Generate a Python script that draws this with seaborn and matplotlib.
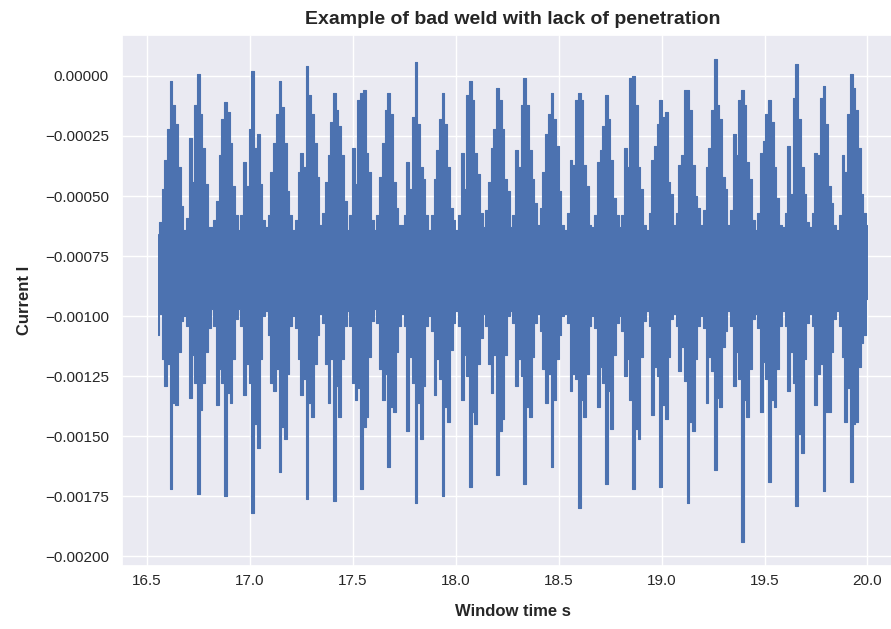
import numpy as np
import matplotlib
matplotlib.use("Agg")
import matplotlib.pyplot as plt
import seaborn as sns

# Upper and lower excursions of the sampled welding current (units of 1e-5 A),
# ten samples per arc pulse; each row below is one pulse.
upper_1e5 = [
    -66, -61, -47, -35, -22, -2, -12, -20, -38, -54,
    -64, -59, -26, -44, -12, 1, -16, -30, -45, -63,
    -63, -60, -52, -33, -18, -11, -15, -28, -46, -58,
    -64, -58, -36, -46, -22, 2, -30, -24, -45, -60,
    -63, -58, -40, -28, -16, -2, -13, -28, -48, -58,
    -64, -60, -40, -32, -38, 4, -8, -16, -28, -42,
    -62, -57, -44, -33, -19, -7, -14, -21, -33, -52,
    -64, -58, -30, -45, -10, -7, -6, -32, -40, -60,
    -64, -58, -42, -28, -14, -7, -16, -44, -55, -62,
    -62, -58, -36, -47, -17, 6, -20, -38, -43, -58,
    -64, -58, -43, -31, -18, -7, -20, -38, -55, -60,
    -64, -58, -32, -47, -8, -2, -10, -32, -41, -57,
    -63, -56, -44, -30, -22, -5, -10, -22, -43, -48,
    -63, -58, -31, -38, -12, -1, -12, -31, -43, -53,
    -62, -55, -40, -24, -16, -7, -18, -29, -48, -62,
    -64, -57, -35, -37, -10, -7, -10, -37, -46, -62,
    -63, -58, -36, -31, -21, -8, -18, -35, -51, -58,
    -63, -58, -30, -38, -1, 0, -12, -38, -47, -62,
    -64, -57, -35, -29, -20, -10, -17, -15, -44, -49,
    -62, -57, -37, -33, -6, -6, -14, -37, -50, -55,
    -62, -56, -38, -30, -14, 7, -12, -18, -42, -47,
    -62, -56, -24, -33, -10, -6, -12, -36, -43, -60,
    -64, -57, -32, -27, -16, -10, -19, -38, -51, -62,
    -63, -57, -29, -49, -9, 5, -18, -38, -49, -61,
    -63, -57, -32, -33, -9, -4, -20, -46, -53, -62,
    -64, -58, -33, -40, -16, 1, -5, -14, -30, -49,
    -57, -62,
]
lower_1e5 = [
    -108, -99, -118, -129, -120, -172, -136, -137, -115, -102,
    -100, -104, -134, -116, -128, -174, -139, -128, -115, -105,
    -97, -104, -137, -122, -128, -175, -132, -136, -118, -101,
    -97, -104, -133, -120, -128, -182, -145, -155, -118, -100,
    -98, -108, -128, -131, -122, -165, -146, -151, -124, -104,
    -100, -105, -118, -133, -126, -176, -136, -142, -120, -108,
    -99, -103, -120, -136, -118, -177, -129, -142, -118, -104,
    -98, -104, -128, -135, -130, -172, -146, -142, -117, -102,
    -97, -103, -122, -135, -124, -163, -138, -140, -115, -104,
    -99, -104, -148, -117, -128, -178, -136, -151, -129, -104,
    -100, -106, -133, -118, -126, -175, -138, -144, -114, -103,
    -98, -104, -135, -116, -125, -171, -140, -145, -120, -109,
    -99, -104, -120, -132, -116, -166, -148, -143, -116, -100,
    -98, -103, -129, -118, -125, -170, -138, -142, -117, -103,
    -99, -106, -122, -136, -124, -163, -135, -118, -108, -100,
    -99, -103, -131, -124, -126, -180, -135, -142, -124, -104,
    -100, -105, -138, -121, -128, -170, -131, -147, -116, -103,
    -100, -106, -125, -118, -135, -172, -147, -151, -117, -102,
    -98, -104, -141, -121, -125, -171, -137, -143, -117, -101,
    -99, -104, -123, -113, -127, -178, -144, -148, -118, -104,
    -100, -105, -136, -117, -123, -164, -134, -138, -113, -106,
    -98, -104, -129, -115, -126, -194, -135, -142, -122, -101,
    -99, -105, -140, -119, -126, -169, -135, -138, -122, -104,
    -98, -104, -131, -115, -128, -179, -149, -157, -118, -103,
    -99, -104, -137, -124, -120, -173, -140, -140, -115, -101,
    -98, -104, -117, -144, -130, -169, -145, -144, -121, -111,
    -108, -93,
]

t_start = 16.553
t_end = 20.0

title = "Example of bad weld with lack of penetration"
xlabel = "Window time s"
ylabel = "Current I"
line_color = "#4C72B0"

sns.set_theme(style="darkgrid")
plt.rcParams["font.family"] = ["Liberation Sans", "DejaVu Sans"]

upper = np.array(upper_1e5, dtype=float) * 1e-5
lower = np.array(lower_1e5, dtype=float) * 1e-5
time_s = np.linspace(t_start, t_end, len(upper))

fig = plt.figure(figsize=(8.91, 6.29), dpi=100)
ax = fig.add_axes([122 / 891, 1 - 566 / 629, 781 / 891, 531 / 629])

# The dense current trace: the band between its upper and lower excursions,
# with the two excursion traces drawn as stepped lines on top.
ax.fill_between(time_s, lower, upper, step="mid", color=line_color, linewidth=0)
for trace in (upper, lower):
    sns.lineplot(x=time_s, y=trace, ax=ax, color=line_color, linewidth=0.8,
                 estimator=None, sort=False, drawstyle="steps-mid")

ax.set_title(title, fontsize=14, fontweight="bold", pad=8)
ax.set_xlabel(xlabel, fontsize=12, fontweight="bold", labelpad=12)
ax.set_ylabel(ylabel, fontsize=12, fontweight="bold", labelpad=9)
ax.set_xticks([16.5, 17.0, 17.5, 18.0, 18.5, 19.0, 19.5, 20.0])
ax.tick_params(axis="x", length=0, pad=5.5)

fig.savefig("out.png", dpi=100)
